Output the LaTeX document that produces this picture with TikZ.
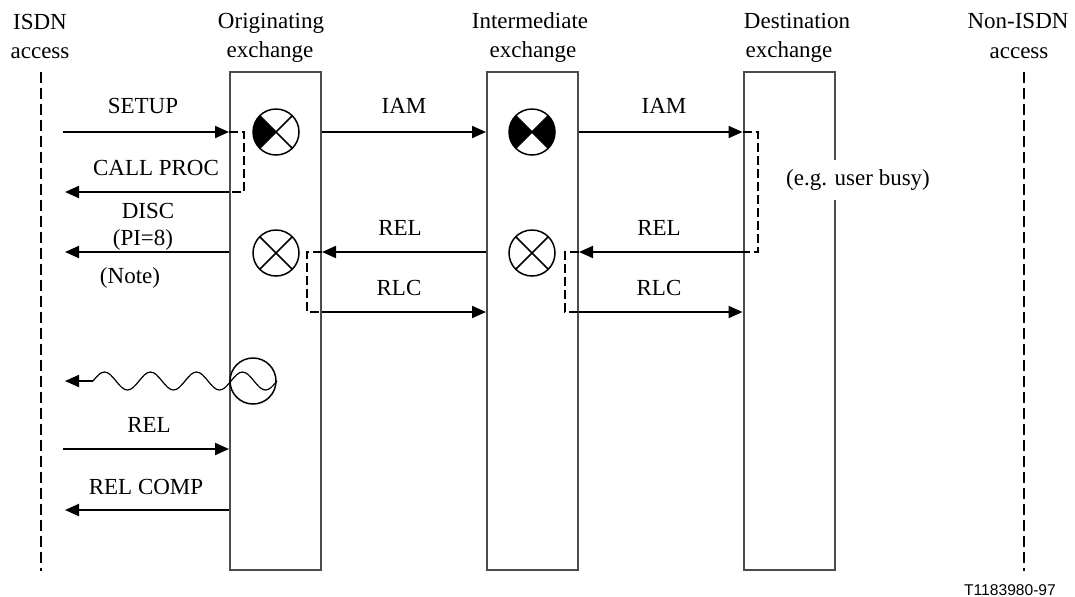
\documentclass[tikz,border=0pt]{standalone}
\usepackage{fontspec}
\setmainfont{Liberation Serif}
\newfontfamily\sansfnt{Liberation Sans}
\usetikzlibrary{arrows.meta}
\newcommand\myXlines{\draw[line width=0.75pt] (path picture bounding box.north west) -- (path picture bounding box.south east) (path picture bounding box.north east) -- (path picture bounding box.south west);}
\begin{document}
\begin{tikzpicture}[x=0.5pt,y=-0.5pt,
  lbl/.style={font=\fontsize{11.5}{13}\selectfont, inner sep=0pt, anchor=base},
  exch/.style={draw=black!70, line width=1pt, minimum width=45.5pt, minimum height=249pt, inner sep=0pt},
  msg/.style={line width=1pt, -{Triangle[length=7pt,width=6pt]}},
  dsh/.style={line width=1pt, dash pattern=on 4.5pt off 2pt},
  life/.style={line width=1.2pt, dash pattern=on 5.5pt off 2.5pt},
  cbase/.style={circle, draw, line width=0.75pt, minimum size=23pt, inner sep=0pt},
  xcirc/.style={cbase, path picture={\myXlines}},
  xhalf/.style={cbase, path picture={\fill (path picture bounding box.center) -- (path picture bounding box.north west) -- (path picture bounding box.south west) -- cycle; \myXlines}},
  xfull/.style={cbase, path picture={\fill (path picture bounding box.center) -- (path picture bounding box.north west) -- (path picture bounding box.south west) -- cycle; \fill (path picture bounding box.center) -- (path picture bounding box.north east) -- (path picture bounding box.south east) -- cycle; \myXlines}},
  ]
\useasboundingbox (0,0) rectangle (1075,596);

% lifelines of the accesses
\coordinate (isdnT) at (41,72); \coordinate (isdnB) at (41,571);
\coordinate (nonT) at (1024,72); \coordinate (nonB) at (1024,571);
\draw[life] (isdnT) -- (isdnB);
\draw[life] (nonT) -- (nonB);

% exchanges
\node[exch] (orig) at (275.5,321) {};
\node[exch] (inter) at (532.5,321) {};
\node[exch] (dest) at (789,321) {};

% headers
\node[lbl] (h1a) at (40,29) {ISDN};
\node[lbl] (h1b) at (40,58) {access};
\node[lbl] (h2a) at (271,28) {Originating};
\node[lbl] (h2b) at (270,57) {exchange};
\node[lbl] (h3a) at (530,28) {Intermediate};
\node[lbl] (h3b) at (533,57) {exchange};
\node[lbl] (h4a) at (797,28) {Destination};
\node[lbl] (h4b) at (789,57) {exchange};
\node[lbl] (h5a) at (1018,28) {Non-ISDN};
\node[lbl] (h5b) at (1019,58) {access};

% message levels
\coordinate (y1) at (0,132);
\coordinate (y2) at (0,192);
\coordinate (y3) at (0,252);
\coordinate (y4) at (0,312);
\coordinate (y6) at (0,449);
\coordinate (y7) at (0,510);
\coordinate (aSetup) at (63,132);
\coordinate (aCP) at (65,192);
\coordinate (aDisc) at (65,252);
\coordinate (aRel) at (63,449);
\coordinate (aRC) at (65,510);
\coordinate (aWave) at (65,381);
\coordinate (w0) at (93,381);

% messages
\draw[msg] (aSetup) -- (orig.west |- y1);
\draw[msg] (orig.west |- y2) -- (aCP);
\draw[msg] (orig.east |- y1) -- (inter.west |- y1);
\draw[msg] (inter.east |- y1) -- (dest.west |- y1);
\draw[msg] (dest.west |- y3) -- (inter.east |- y3);
\draw[msg] (inter.west |- y3) -- (orig.east |- y3);
\draw[msg] (orig.west |- y3) -- (aDisc);
\draw[msg] (orig.east |- y4) -- (inter.west |- y4);
\draw[msg] (inter.east |- y4) -- (dest.west |- y4);
\draw[msg] (aRel) -- (orig.west |- y6);
\draw[msg] (orig.west |- y7) -- (aRC);

% dashed internal links
\draw[dsh] (orig.west |- y1) -- ++(15,0) |- (orig.west |- y2);
\draw[dsh] (dest.west |- y1) -- ++(15,0) |- (dest.west |- y3);
\draw[dsh] (orig.east |- y3) -- ++(-15,0) |- (orig.east |- y4);
\draw[dsh] (inter.east |- y3) -- ++(-14,0) |- (inter.east |- y4);

% symbols
\node[xhalf] (c1) at (276,132) {};
\node[xfull] (c2) at (532,132) {};
\node[xcirc] (c3) at (276,253) {};
\node[xcirc] (c4) at (532,253) {};
\node[cbase] (wc) at (253,381) {};

% tone (wavy line)
\draw[line width=0.6pt] (w0) \foreach \i in {1,...,4} { sin ++(11.5,-9) cos ++(11.5,9) sin ++(11.5,9) cos ++(11.5,-9) };
\draw[msg] (w0) -- (aWave);

% labels
\node[lbl] (tSetup) at (143,113) {SETUP};
\node[lbl] (tCP) at (156,175) {CALL PROC};
\node[lbl] (tDisc) at (148,218) {DISC};
\node[lbl] (tPI) at (143,245) {(PI=8)};
\node[lbl] (tNote) at (130,283) {(Note)};
\node[lbl] (tIAM1) at (404,113) {IAM};
\node[lbl] (tIAM2) at (664,113) {IAM};
\node[lbl] (tREL1) at (400,235) {REL};
\node[lbl] (tREL2) at (659,235) {REL};
\node[lbl] (tRLC1) at (399,295) {RLC};
\node[lbl] (tRLC2) at (659,295) {RLC};
\node[lbl] (tRel3) at (149,432) {REL};
\node[lbl] (tRC) at (146,494) {REL COMP};
\node[lbl, anchor=center, fill=white, inner xsep=1pt, inner ysep=5pt] (busy) at (858,180) {(e.g. user busy)};

\node[font=\sansfnt\fontsize{7.8}{9}\selectfont, inner sep=0pt, anchor=base] (ref) at (1010,595) {T1183980-97};
\end{tikzpicture}
\end{document}
